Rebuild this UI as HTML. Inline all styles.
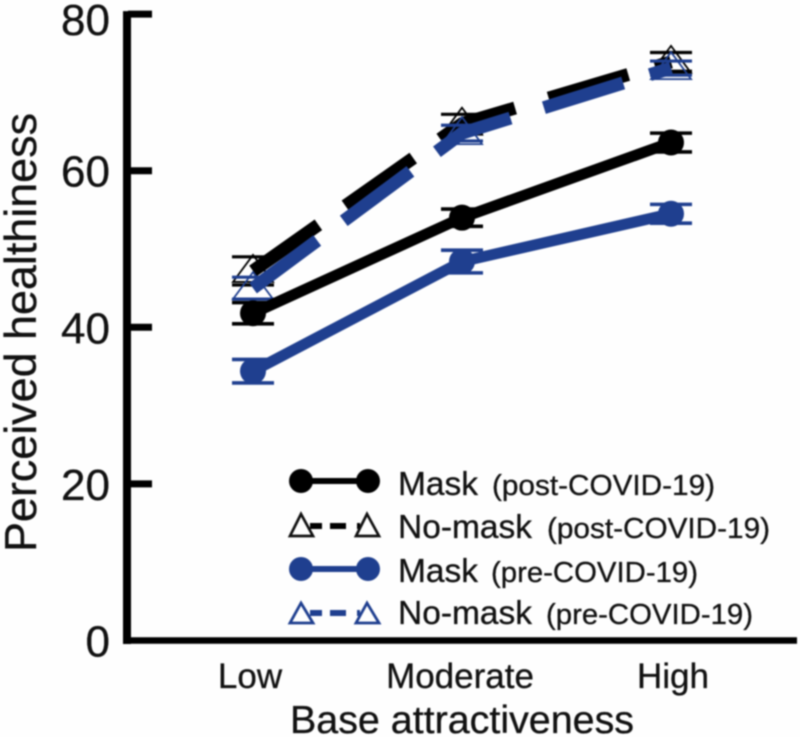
<!DOCTYPE html>
<html lang="en">
<head>
<meta charset="utf-8">
<title>Perceived healthiness chart</title>
<style>
html,body{margin:0;padding:0;background:#fefefe;width:800px;height:737px;overflow:hidden}
svg{display:block;filter:blur(0.7px)}
text{font-family:"Liberation Sans",Arial,sans-serif;fill:#111;stroke:#111;stroke-width:.3px}
</style>
</head>
<body>
<svg id="chart" width="800" height="737" viewBox="0 0 800 737" xmlns="http://www.w3.org/2000/svg">
  <text transform="translate(36,552) rotate(-90)" font-size="44.5" textLength="439" lengthAdjust="spacingAndGlyphs">Perceived healthiness</text>
  <text x="290" y="733" font-size="39" textLength="344" lengthAdjust="spacingAndGlyphs">Base attractiveness</text>
  <g id="axes"></g>
  <g id="series"></g>
  <g>
    <g>
      <line x1="301" y1="481" x2="368" y2="481" stroke="#000" stroke-width="6"/>
      <circle cx="301" cy="481" r="12" fill="#000"/><circle cx="368" cy="481" r="12" fill="#000"/>
      <text x="398" y="495" font-size="33.5">Mask</text>
      <text x="492" y="495" font-size="29" textLength="223" lengthAdjust="spacingAndGlyphs">(post-COVID-19)</text>
    </g>
    <g>
      <line x1="310" y1="526" x2="360" y2="526" stroke="#000" stroke-width="6" stroke-dasharray="12 8 16 11 10"/>
      <polygon points="301,514 290,536 313,536" fill="none" stroke="#111" stroke-width="2.7"/>
      <polygon points="367,514 356,536 379,536" fill="none" stroke="#111" stroke-width="2.7"/>
      <text x="398" y="538" font-size="33.5">No-mask</text>
      <text x="547" y="538" font-size="29" textLength="223" lengthAdjust="spacingAndGlyphs">(post-COVID-19)</text>
    </g>
    <g>
      <line x1="301" y1="569" x2="368" y2="569" stroke="#1f3f8f" stroke-width="6"/>
      <circle cx="301" cy="569" r="12" fill="#1f3f8f"/><circle cx="368" cy="569" r="12" fill="#1f3f8f"/>
      <text x="398" y="582" font-size="33.5">Mask</text>
      <text x="491" y="582" font-size="29" textLength="207" lengthAdjust="spacingAndGlyphs">(pre-COVID-19)</text>
    </g>
    <g>
      <line x1="310" y1="613" x2="360" y2="613" stroke="#1f3f8f" stroke-width="6" stroke-dasharray="12 8 16 11 10"/>
      <polygon points="301,603 290,623 313,623" fill="none" stroke="#1f3f8f" stroke-width="2.8"/>
      <polygon points="367,603 356,623 379,623" fill="none" stroke="#1f3f8f" stroke-width="2.8"/>
      <text x="398" y="624" font-size="33.5">No-mask</text>
      <text x="546" y="624" font-size="29" textLength="207" lengthAdjust="spacingAndGlyphs">(pre-COVID-19)</text>
    </g>
  </g>
</svg>
<script>
const categories = ["Low", "Moderate", "High"];
const yTicks = [0, 20, 40, 60, 80];
const noMaskPost = [47.2, 66.0, 73.9];
const noMaskPostErr = [1.8, 1.2, 1.2];
const noMaskPre = [45.0, 64.8, 73.1];
const noMaskPreErr = [1.4, 1.0, 0.9];
const maskPost = [41.8, 54.0, 63.6];
const maskPostErr = [1.35, 1.1, 1.2];
const maskPre = [34.4, 48.4, 54.5];
const maskPreErr = [1.5, 1.45, 1.2];

const NS = "http://www.w3.org/2000/svg";
const BLACK = "#000";
const BLUE = "#1f3f8f";

function yScale(v) { return 640.5 - v * 7.83; }
function xScale(i) { return 253 + i * 209; }

function make(parent, tag, props) {
  const el = document.createElementNS(NS, tag);
  for (const k in props) el.setAttribute(k, props[k]);
  parent.appendChild(el);
  return el;
}

const axes = document.getElementById("axes");
const seriesGroup = document.getElementById("series");

const yAxis = make(axes, "line", {x1: 127, y1: yScale(80) - 3, x2: 127, y2: 644, stroke: "#000", "stroke-width": 8});


const xAxis = make(axes, "line", {x1: 123, y1: 640.5, x2: 797, y2: 640.5, stroke: "#000", "stroke-width": 6.5});



yTicks.forEach(function (t) {
  if (t > 0) {
    const tick = make(axes, "line", {x1: 128, y1: yScale(t), x2: 152, y2: yScale(t), stroke: "#000", "stroke-width": 7});
    
    
  }
  const label = make(axes, "text", {x: 110, y: Math.max(yScale(t) + 16, 35), "text-anchor": "end", "font-size": 44});
  label.textContent = String(t);
  
  
});

categories.forEach(function (c, i) {
  const label = make(axes, "text", {x: xScale(i) - 3 + (i === 1 ? 1 : 0) + (i === 2 ? 5 : 0), y: 688, "text-anchor": "middle", "font-size": 35});
  label.textContent = c;
  
  
});

function pointsOf(values) {
  return values.map(function (v, i) { return xScale(i) + "," + yScale(v); }).join(" ");
}

function drawErrors(values, errs, color, width, g) {
  values.forEach(function (v, i) {
    const top = make(g, "line", {x1: xScale(i) - 21, x2: xScale(i) + 21, y1: yScale(v + errs[i]), y2: yScale(v + errs[i]), stroke: color, "stroke-width": width});
    
    
    const bottom = make(g, "line", {x1: xScale(i) - 21, x2: xScale(i) + 21, y1: yScale(v - errs[i]), y2: yScale(v - errs[i]), stroke: color, "stroke-width": width});
    
    
  });
}

function drawDashed(values, errs, color, name) {
  const g = make(seriesGroup, "g", {});
  
  
  drawErrors(values, errs, color, 3.2, g);
  values.forEach(function (v, i) {
    const x = xScale(i), y = yScale(v);
    const tri = make(g, "polygon", {points: x + "," + (y - 16) + " " + (x - 20) + "," + (y + 11) + " " + (x + 20) + "," + (y + 11), fill: "none", stroke: color, "stroke-width": 1.8});
    
    
  });
  const line = make(g, "polyline", {points: pointsOf(values), fill: "none", stroke: color, "stroke-width": 13, "stroke-dasharray": "80 33 83 33 82 35 83 28 40", "stroke-linejoin": "miter"});
  
  
}

function drawSolid(values, errs, color, name) {
  const g = make(seriesGroup, "g", {});
  
  
  drawErrors(values, errs, color, 3.6, g);
  const line = make(g, "polyline", {points: pointsOf(values), fill: "none", stroke: color, "stroke-width": 11});
  
  
  values.forEach(function (v, i) {
    const dot = make(g, "circle", {cx: xScale(i), cy: yScale(v), r: 13, fill: color});
    
    
  });
}

drawDashed(noMaskPost, noMaskPostErr, BLACK, "no-mask-post-series");
drawDashed(noMaskPre, noMaskPreErr, BLUE, "no-mask-pre-series");
drawSolid(maskPost, maskPostErr, BLACK, "mask-post-series");
drawSolid(maskPre, maskPreErr, BLUE, "mask-pre-series");
</script>
</body>
</html>
